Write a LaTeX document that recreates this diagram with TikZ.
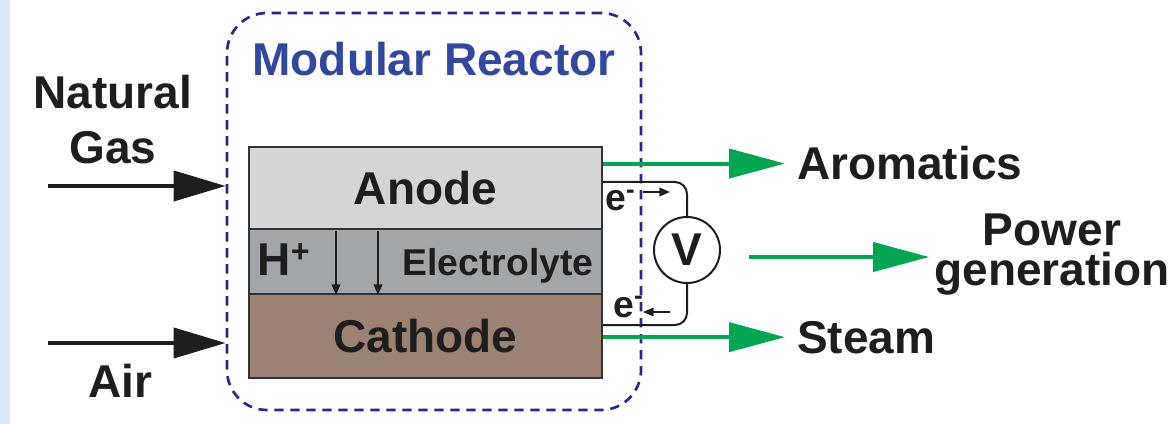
\documentclass[tikz,border=0pt]{standalone}
\usepackage{fontspec}
\setmainfont{Liberation Sans}
\usepackage{xcolor}
\definecolor{reactorBlue}{RGB}{50,72,160}
\definecolor{dashBlue}{RGB}{40,40,140}
\definecolor{anodeGray}{RGB}{212,213,215}
\definecolor{electGray}{RGB}{163,166,169}
\definecolor{cathodeBrown}{RGB}{154,130,117}
\definecolor{flowGreen}{RGB}{0,166,81}
\definecolor{inkBlack}{RGB}{30,30,30}
\definecolor{edgeBlue}{RGB}{218,233,252}
\usepackage{tikz}
\usetikzlibrary{arrows.meta, positioning, calc}
\newcommand{\bigtxt}{\fontsize{34.5}{40}\selectfont\bfseries}
\newcommand{\midtxt}{\fontsize{28}{32}\selectfont\bfseries}

\begin{document}
\begin{tikzpicture}[x=0.75pt, y=-0.75pt,
    txt/.style={inner sep=0pt, text=inkBlack, font=\bigtxt},
    layer/.style={draw=black!80, line width=1.5pt, minimum width=264.75pt, inner sep=0pt, text=inkBlack, font=\bigtxt},
    feed/.style={-{Triangle[length=39pt, width=22.5pt]}, line width=3pt, inkBlack},
    product/.style={-{Triangle[length=42pt, width=21.75pt]}, line width=3pt, flowGreen},
    wire/.style={line width=1.5pt, inkBlack},
    smallArrow/.style={-{Triangle[length=8pt, width=6.5pt]}, line width=1.2pt, inkBlack}]
    \useasboundingbox (0,0) rectangle (1175,424);
    \fill[white] (0,0) rectangle (1175,424);
    \fill[edgeBlue] (0,0) rectangle (10,424);

    % reactor outline and title
    \node[draw=dashBlue, dash pattern=on 7pt off 5pt, line width=2pt, rounded corners=30pt,
          minimum width=310.5pt, minimum height=297.75pt] (reactor) at (434,211.5) {};
    \node[txt, text=reactorBlue, anchor=base] (title) at (434,76) {Modular Reactor};

    % cell layers
    \node[layer, fill=anodeGray, minimum height=61.5pt] (anode) at (425.5,188) {Anode};
    \node[layer, fill=electGray, minimum height=48.75pt] (electrolyte) at (425.5,261.5) {};
    \node[layer, fill=cathodeBrown, minimum height=63pt] (cathode) at (425.5,336) {Cathode};
    \node[txt, anchor=base] (proton) at (284,275) {H\textsuperscript{+}};
    \node[txt, font=\midtxt, anchor=base] (electext) at (498,275) {Electrolyte};
    \coordinate (ionA) at (336,231);
    \coordinate (ionB) at (378,231);
    \draw[smallArrow] (ionA) -- (ionA |- electrolyte.south);
    \draw[smallArrow] (ionB) -- (ionB |- electrolyte.south);

    % feeds
    \node[txt, align=center, font=\fontsize{34.5}{41.25}\selectfont\bfseries] (gas) at (113,120) {Natural\\Gas};
    \node[txt, anchor=base] (air) at (120,397) {Air};
    \coordinate (gasStart) at (48,186);
    \coordinate (airStart) at (48,343);
    \draw[feed] (gasStart) -- (gasStart -| reactor.west);
    \draw[feed] (airStart) -- (airStart -| reactor.west);

    % external circuit
    \node[draw=inkBlack, line width=1.5pt, circle, minimum size=49.5pt, inner sep=0pt,
          font=\bigtxt, text=inkBlack] (volt) at (687,250) {V};
    \draw[wire, rounded corners=9pt] (anode.east |- 0,182) -| (volt.north);
    \draw[wire, rounded corners=9pt] (volt.south) |- (cathode.east |- 0,325);
    \node[txt, font=\midtxt, anchor=base west] (eTop) at (605,211) {e\textsuperscript{-}};
    \node[txt, font=\midtxt, anchor=base west] (eBot) at (613,317) {e\textsuperscript{-}};
    \coordinate (eTopArr) at (643,192);
    \coordinate (eBotArr) at (670,312);
    \draw[smallArrow] (eTopArr) -- ++(27,0);
    \draw[smallArrow] (eBotArr) -- ++(-27,0);

    % products
    \node[txt, anchor=base west] (arom) at (797,180) {Aromatics};
    \node[txt, anchor=base west] (steam) at (797,353) {Steam};
    \node[txt, anchor=base] (power) at (1052,245) {Power};
    \node[txt, anchor=base] (powerGen) at (1052,285) {generation};
    \coordinate (powStart) at (749,257);
    \draw[product, shorten >=9pt] (anode.east |- arom.west) -- (arom.west);
    \draw[product, shorten >=9pt] (cathode.east |- steam.west) -- (steam.west);
    \draw[product, shorten >=3.75pt] (powStart) -- (powStart -| powerGen.west);
\end{tikzpicture}
\end{document}
